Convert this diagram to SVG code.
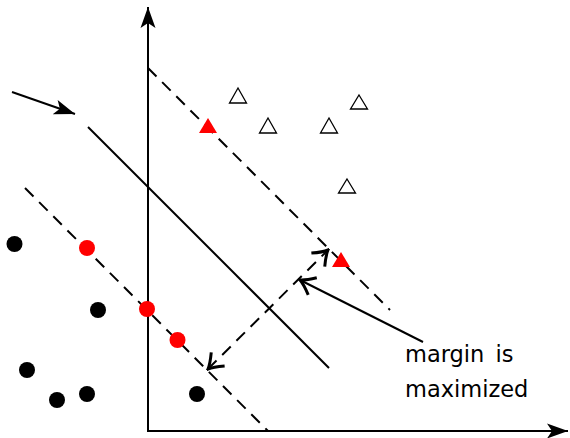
<svg xmlns="http://www.w3.org/2000/svg" width="570" height="438" viewBox="0 0 570 438">
<style>
.ln{stroke:#000;stroke-width:2;fill:none}
.dash{stroke:#000;stroke-width:2;fill:none;stroke-dasharray:12 8}
.blk{fill:#000}
.red{fill:#f00}
.open{fill:#fff;stroke:#000;stroke-width:1.3}
.lbl{font-family:"DejaVu Sans",sans-serif;font-size:22.5px;fill:#000;word-spacing:4px}
</style>
<defs>
<marker id="stealth" viewBox="-24 -10 25 20" refX="0" refY="0" markerWidth="25" markerHeight="20" markerUnits="userSpaceOnUse" orient="auto">
<path d="M0,0 L-21,-7.5 L-16,0 L-21,7.5 Z" fill="#000"/>
</marker>
<marker id="to" viewBox="-17 -12 19 24" refX="0" refY="0" markerWidth="19" markerHeight="24" markerUnits="userSpaceOnUse" orient="auto">
<path d="M-14,-9.5 Q-5,-2 0,0 Q-5,2 -14,9.5" fill="none" stroke="#000" stroke-width="3"/>
</marker>
<marker id="tostart" viewBox="-17 -12 19 24" refX="0" refY="0" markerWidth="19" markerHeight="24" markerUnits="userSpaceOnUse" orient="auto-start-reverse">
<path d="M-14,-9.5 Q-5,-2 0,0 Q-5,2 -14,9.5" fill="none" stroke="#000" stroke-width="3"/>
</marker>
</defs>
<g id="connectors">
<line id="y-axis" class="ln" x1="148" y1="432" x2="148" y2="7" marker-end="url(#stealth)"/>
<line id="x-axis" class="ln" x1="147" y1="431" x2="568" y2="431" marker-end="url(#stealth)"/>
<line id="pointer" class="ln" x1="12" y1="92" x2="75" y2="114" marker-end="url(#stealth)"/>
<line id="hyperplane" class="ln" x1="88" y1="127" x2="329" y2="368"/>
<line id="upper-margin" class="dash" x1="148" y1="68" x2="390" y2="310"/>
<line id="lower-margin" class="dash" x1="25" y1="188" x2="268" y2="431"/>
<line id="margin-width" class="dash" x1="208" y1="369" x2="328" y2="250" marker-start="url(#tostart)" marker-end="url(#to)"/>
<line id="label-pointer" class="ln" x1="423" y1="342" x2="300" y2="280" marker-end="url(#to)"/>
</g>
<g id="class-neg">
<circle class="blk" cx="14.5" cy="244" r="8"/>
<circle class="blk" cx="98" cy="310" r="8"/>
<circle class="blk" cx="27" cy="370" r="8"/>
<circle class="blk" cx="57" cy="400" r="8"/>
<circle class="blk" cx="87" cy="394" r="8"/>
<circle class="blk" cx="197" cy="394" r="8"/>
</g>
<g id="support-neg">
<circle class="red" cx="87" cy="248" r="8"/>
<circle class="red" cx="147" cy="309" r="8"/>
<circle class="red" cx="177.5" cy="340" r="8"/>
</g>
<g id="class-pos">
<polygon class="open" points="238,88 246.5,103 229.5,103"/>
<polygon class="open" points="268,118 276.5,133 259.5,133"/>
<polygon class="open" points="329,118 337.5,133 320.5,133"/>
<polygon class="open" points="359,95 367.5,109 350.5,109"/>
<polygon class="open" points="347,179 355.5,193 338.5,193"/>
</g>
<g id="support-pos">
<polygon class="red" points="208,118 217,133 199,133"/>
<polygon class="red" points="341,252 350,267 332,267"/>
</g>
<g id="label">
<text class="lbl" x="405" y="362">margin is</text>
<text class="lbl" x="405" y="397">maximized</text>
</g>
</svg>
